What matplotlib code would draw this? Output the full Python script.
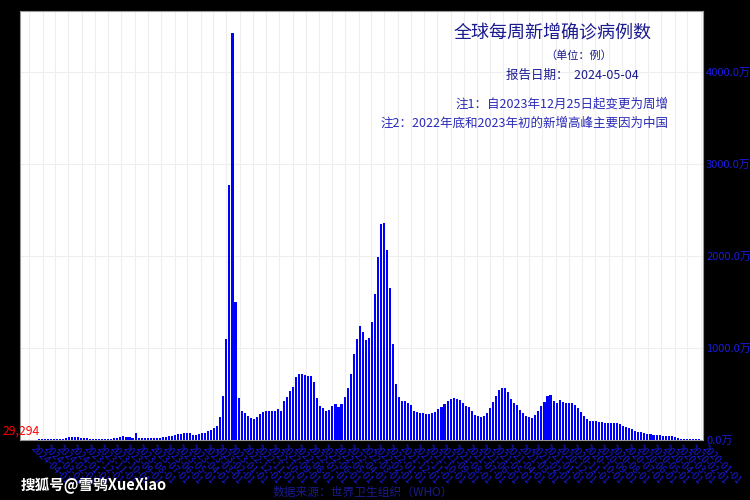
import numpy as np
import matplotlib
matplotlib.use("Agg")
import matplotlib.pyplot as plt
import matplotlib.dates as mdates
from matplotlib.ticker import FuncFormatter

plt.rcParams['font.family'] = ['Noto Sans CJK SC', 'DejaVu Sans']

# weekly new confirmed cases worldwide, unit: 万 (10,000 cases)
start_date = "2020-01-05"
weekly_cases_wan = [
    0.1, 0.2, 0.5, 1.0, 2.0, 2.5, 5.0,
    11, 25, 40, 40, 43, 43, 47, 51, 54, 62, 65, 72, 80, 83, 94, 109, 127, 138, 152, 167,
    178, 178, 185, 178, 181, 192, 188, 203, 203, 206, 228, 254, 301, 344, 380, 399, 402,
    395, 413, 435,
    402, 417, 489, 475, 410, 366, 308, 264, 236, 250, 257, 286, 323, 373, 402, 446, 514,
    562, 562, 540, 475, 410, 344, 290, 257, 243, 257, 272, 315, 351, 366, 402, 431, 446,
    453, 446, 424, 388, 359, 330, 301, 286, 279, 282, 286, 293, 301, 308, 373, 395, 417, 424,
    460, 601, 1040, 1652, 2062, 2351, 2340, 1989, 1583, 1279, 1101, 1083, 1171, 1232, 1094,
    931, 710, 558, 460, 391, 351, 388, 370, 326, 315, 344, 370, 449, 623, 692, 692, 700,
    714, 714, 685, 568, 533, 467, 420, 315, 330, 315, 315,
    315, 315, 300, 279, 243, 221, 236, 257, 286, 315, 453, 1493, 4420, 2772, 1094, 478,
    243, 152, 127, 105, 90, 76, 73, 62, 51, 47,
    73, 70, 66, 62, 55, 47, 40, 33, 25, 22, 18, 15, 11, 11, 11, 13, 11, 13, 69, 12, 22,
    29, 33, 29, 18, 11, 10, 9, 9, 10, 10, 9, 9, 10, 11, 13, 18, 25, 29, 27, 22, 11, 9,
    8, 8, 7, 7, 6, 5, 4, 2.9294,
]
dates = np.arange(np.datetime64(start_date), np.datetime64(start_date) + 7 * len(weekly_cases_wan), 7)

title_text = "全球每周新增确诊病例数"
unit_text = "（单位：例）"
report_text = "报告日期：  2024-05-04"
note1_text = "注1：自2023年12月25日起变更为周增"
note2_text = "注2：2022年底和2023年初的新增高峰主要因为中国"
source_text = "数据来源：世界卫生组织（WHO）"
watermark_text = "搜狐号@雪鸮XueXiao"

fig = plt.figure(figsize=(7.5, 5), dpi=100, facecolor="black")
ax = fig.add_axes([0.0267, 0.121, 0.911, 0.857])
ax.set_facecolor("white")

ax.bar(dates, weekly_cases_wan, width=4.8, color="#0000ff", edgecolor="none", zorder=3)

ax.set_xlim(np.datetime64("2024-04-22"), np.datetime64("2019-12-26"))
ax.set_ylim(0, max(weekly_cases_wan) * 1.055)

ax.xaxis.set_major_locator(mdates.MonthLocator(bymonthday=1))
ax.xaxis.set_major_formatter(mdates.DateFormatter("%Y-%m-%d"))
ax.yaxis.set_major_locator(matplotlib.ticker.MultipleLocator(1000))
ax.yaxis.set_major_formatter(FuncFormatter(lambda v, p: f"{v:.1f}万"))
ax.yaxis.tick_right()

ax.tick_params(axis="x", length=0, pad=3, labelsize=7, colors="#1a1ae0")
ax.tick_params(axis="y", length=0, pad=2, labelsize=8, colors="#1a1ae0")
for lab in ax.get_xticklabels():
    lab.set_rotation(-45)
    lab.set_ha("left")
    lab.set_va("top")

ax.grid(True, color="#eeeeee", linewidth=0.8, zorder=0)
for s in ax.spines.values():
    s.set_color("#999999")
    s.set_linewidth(0.8)

last_val = weekly_cases_wan[-1]
ax.annotate(f"{last_val * 10000:,.0f}", xy=(dates[-1], last_val), xytext=(0.5, 1),
            textcoords="offset points", ha="right", va="bottom", color="red",
            fontsize=8.8, annotation_clip=False, zorder=5)

fig.text(0.737, 0.934, title_text, ha="center", va="center", fontsize=13, color="#1a1a90")
fig.text(0.771, 0.888, unit_text, ha="center", va="center", fontsize=8, color="#1a1a90")
fig.text(0.763, 0.850, report_text, ha="center", va="center", fontsize=9, color="#1a1a90")
fig.text(0.8907, 0.792, note1_text, ha="right", va="center", fontsize=9, color="#2a2ab8")
fig.text(0.8907, 0.754, note2_text, ha="right", va="center", fontsize=9, color="#2a2ab8")
fig.text(0.484, 0.016, source_text, ha="center", va="center", fontsize=8.5, color="#1a1a90")
fig.text(0.125, 0.03, watermark_text, ha="center", va="center", fontsize=10.5,
         color="white", fontweight="bold")

fig.savefig("out.png", dpi=100, facecolor="black")
